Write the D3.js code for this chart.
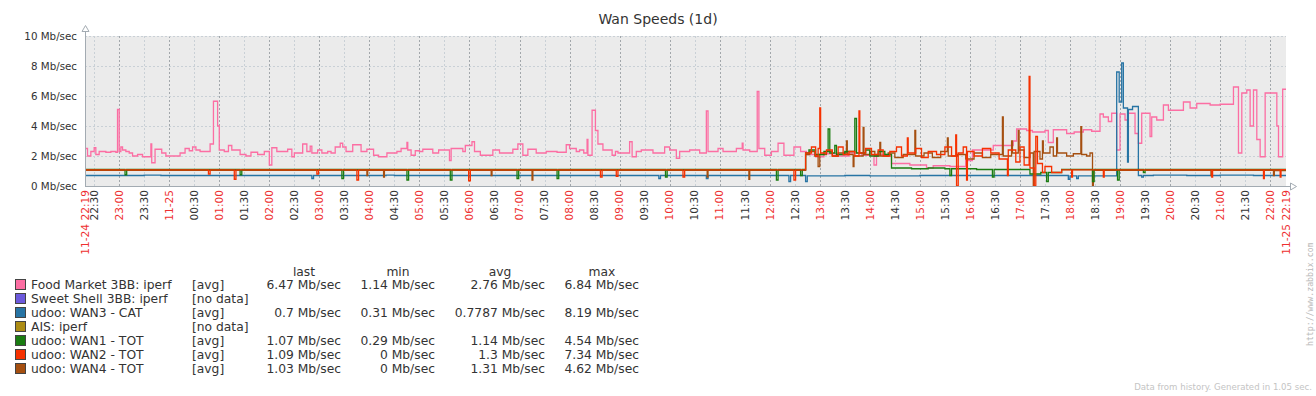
<!DOCTYPE html>
<html>
<head>
<meta charset="utf-8">
<script src="https://cdn.jsdelivr.net/npm/d3@7/dist/d3.min.js"></script>
<style>
  body { margin: 0; background: #fff; }
  svg { display: block; font-family: "DejaVu Sans", sans-serif; }
</style>
</head>
<body>
<div id="target"></div>
<script>
// series: [clock time, Mb/sec], times >= 22:19 belong to 11-24, the rest to 11-25
var foodMarket = [["22:19",2.5],["22:22",2.0],["22:26",2.3],["22:30",2.55],["22:32",2.1],["22:36",2.3],["22:44",2.25],["22:50",2.3],["22:56",2.25],["22:58",5.1],["23:00",2.3],["23:02",2.6],["23:04",2.4],["23:08",2.3],["23:12",2.2],["23:16",2.0],["23:22",2.1],["23:28",1.95],["23:38",2.8],["23:39",1.55],["23:43",2.45],["23:51",2.2],["23:56",2.0],["00:13",2.2],["00:19",2.5],["00:24",2.35],["00:28",2.6],["00:32",2.4],["00:37",2.3],["00:49",2.8],["00:53",5.65],["00:58",4.0],["01:00",2.4],["01:06",2.3],["01:11",2.7],["01:15",2.4],["01:25",2.1],["01:32",2.0],["01:38",2.25],["01:46",2.1],["01:54",2.3],["02:00",1.4],["02:03",2.55],["02:09",2.3],["02:22",2.45],["02:27",1.95],["02:30",2.2],["02:40",2.8],["02:45",2.3],["02:49",2.65],["02:51",2.2],["02:58",2.4],["03:03",2.2],["03:10",2.3],["03:14",2.2],["03:19",2.6],["03:25",2.85],["03:28",2.6],["03:32",2.3],["03:40",2.75],["03:50",2.3],["03:57",2.45],["04:05",2.05],["04:11",1.95],["04:21",2.2],["04:33",2.3],["04:38",2.5],["04:45",2.9],["04:46",2.4],["04:50",2.05],["04:55",2.35],["05:00",2.3],["05:04",2.45],["05:16",2.2],["05:23",2.4],["05:36",1.7],["05:38",2.5],["05:52",2.3],["05:55",2.7],["06:03",2.95],["06:06",2.3],["06:13",2.05],["06:28",2.4],["06:36",2.2],["06:52",2.45],["06:58",2.8],["07:04",2.05],["07:10",2.45],["07:20",2.2],["07:32",2.3],["07:45",2.25],["07:56",2.75],["08:00",2.5],["08:08",2.3],["08:12",2.4],["08:17",2.2],["08:21",3.1],["08:22",2.05],["08:27",5.05],["08:31",3.7],["08:34",2.8],["08:40",2.4],["08:51",2.05],["08:55",2.3],["08:58",2.2],["09:12",2.95],["09:15",1.95],["09:20",2.3],["09:26",2.4],["09:40",2.2],["09:54",2.6],["10:00",2.4],["10:08",1.85],["10:12",2.3],["10:24",2.4],["10:36",2.2],["10:44",5.0],["10:46",2.3],["10:58",2.5],["11:04",2.3],["11:20",2.5],["11:27",2.85],["11:28",2.4],["11:36",2.3],["11:45",6.3],["11:47",2.5],["11:54",2.05],["12:02",2.3],["12:10",2.85],["12:17",2.05],["12:29",2.6],["12:37",2.3],["12:44",2.1],["12:55",1.95],["13:05",2.15],["13:20",2.0],["13:35",2.2],["13:50",2.05],["14:05",1.4],["14:08",2.1],["14:20",2.0],["14:26",1.5],["14:48",1.4],["15:08",1.2],["15:16",1.35],["15:36",1.3],["15:55",1.7],["16:03",2.4],["16:28",2.7],["16:52",3.0],["16:56",3.8],["17:08",3.7],["17:15",3.6],["17:30",3.7],["17:34",2.9],["17:40",3.75],["17:56",3.5],["18:05",3.6],["18:16",3.75],["18:26",3.65],["18:36",4.8],["18:40",4.6],["18:46",4.3],["18:50",4.85],["18:56",2.4],["19:00",4.8],["19:06",4.4],["19:10",4.85],["19:18",3.5],["19:22",2.85],["19:26",4.85],["19:36",3.3],["19:38",4.6],["19:44",4.4],["19:52",5.4],["19:58",5.05],["20:16",5.6],["20:24",5.2],["20:32",5.5],["20:48",5.4],["21:00",5.45],["21:16",6.6],["21:22",2.2],["21:26",6.2],["21:32",6.4],["21:36",4.0],["21:40",6.4],["21:44",3.1],["21:48",1.95],["21:54",6.2],["22:08",4.0],["22:10",1.95],["22:15",6.45]];

var wan3 = [["22:19",0.7],["23:30",0.73],["23:50",0.7],["02:51",0.5],["02:53",0.7],["04:20",0.73],["04:30",0.7],["09:47",0.5],["09:49",0.7],["10:44",0.5],["10:46",0.7],["12:23",0.3],["12:25",0.7],["12:43",0.3],["12:45",0.68],["13:30",0.7],["14:00",0.68],["15:00",0.7],["17:58",0.45],["18:00",0.68],["18:08",0.5],["18:10",0.68],["18:56",7.6],["18:59",5.6],["19:02",8.2],["19:04",5.2],["19:09",1.6],["19:10",5.1],["19:15",5.3],["19:22",0.7],["19:26",0.6],["19:28",0.7],["19:40",0.73],["20:20",0.7],["21:00",0.72],["21:40",0.7]];

var wan1 = [["22:19",1.1],["23:07",0.75],["23:09",1.1],["01:25",0.75],["01:27",1.1],["03:27",0.5],["03:29",1.1],["04:45",0.4],["04:47",1.1],["05:37",0.4],["05:39",1.1],["06:57",0.5],["06:59",1.1],["07:45",0.5],["07:47",1.1],["09:55",0.6],["09:57",1.1],["12:08",0.4],["12:10",1.1],["12:37",0.7],["12:39",1.1],["12:43",2.2],["12:47",2.4],["12:55",2.1],["13:05",2.3],["13:10",3.8],["13:12",2.2],["13:18",2.7],["13:20",2.1],["13:30",2.3],["13:42",4.5],["13:44",2.2],["13:55",2.4],["14:00",2.0],["14:10",2.3],["14:18",2.1],["14:26",1.2],["14:50",1.15],["15:10",1.2],["15:30",1.15],["15:36",0.7],["15:38",1.15],["16:08",1.1],["16:27",0.6],["16:29",1.1],["17:12",0.8],["17:25",0.9],["17:32",0.3],["17:34",0.9],["17:50",1.1],["18:27",0.3],["18:29",1.1],["18:57",0.4],["18:59",1.1],["19:28",0.9],["19:30",1.1]];

var wan2 = [["22:19",1.07],["00:47",0.8],["00:49",1.07],["01:18",0.45],["01:20",1.07],["02:57",0.8],["02:59",1.07],["03:45",0.4],["03:47",1.07],["05:59",0.35],["06:01",1.07],["08:37",0.6],["08:39",1.07],["08:56",0.65],["08:58",1.07],["10:16",0.6],["10:18",1.07],["12:29",0.4],["12:31",1.07],["12:43",2.2],["12:50",2.6],["12:55",2.0],["12:58",2.5],["13:00",5.2],["13:01",2.2],["13:08",2.4],["13:15",2.0],["13:22",2.6],["13:28",2.1],["13:35",2.3],["13:42",2.0],["13:47",5.0],["13:48",2.2],["13:55",2.5],["14:02",2.1],["14:10",2.4],["14:16",2.0],["14:24",2.3],["14:32",2.6],["14:38",2.0],["14:45",3.2],["14:46",2.2],["14:55",2.5],["15:02",1.9],["15:10",2.3],["15:20",2.1],["15:30",2.6],["15:38",2.0],["15:43",3.4],["15:44",0.0],["15:46",2.2],["15:52",2.6],["15:56",0.4],["15:57",2.3],["16:05",2.0],["16:15",2.5],["16:25",2.2],["16:35",1.8],["16:45",0.7],["16:46",2.4],["16:55",1.6],["17:00",2.6],["17:05",1.4],["17:11",7.3],["17:12",1.2],["17:17",0.0],["17:19",3.3],["17:21",1.5],["17:27",0.9],["17:30",1.3],["17:38",0.9],["17:50",1.07],["18:02",0.6],["18:03",1.07],["18:40",0.6],["18:41",1.07],["20:50",0.6],["20:51",1.07],["21:52",0.5],["21:53",1.07],["22:12",0.6],["22:13",1.09]];

var wan4 = [["22:19",1.04],["03:57",0.7],["03:58",1.04],["04:17",0.6],["04:18",1.04],["06:26",0.7],["06:27",1.04],["07:15",0.4],["07:16",1.04],["10:45",0.6],["10:46",1.04],["11:35",0.45],["11:36",1.04],["12:43",2.1],["12:48",2.3],["12:54",2.0],["12:58",1.3],["13:00",2.1],["13:08",2.3],["13:15",2.0],["13:22",2.2],["13:32",3.0],["13:33",2.1],["13:40",1.3],["13:41",2.0],["13:52",3.9],["13:53",2.1],["14:00",2.3],["14:06",2.0],["14:12",2.9],["14:13",2.0],["14:22",2.2],["14:30",1.9],["14:40",2.1],["14:54",3.7],["14:55",2.0],["15:05",2.2],["15:15",1.9],["15:25",2.3],["15:33",3.2],["15:34",2.0],["15:45",2.1],["15:55",1.8],["16:05",2.2],["16:15",1.9],["16:25",2.1],["16:39",4.6],["16:40",2.0],["16:50",3.0],["16:51",2.2],["16:58",3.7],["16:59",2.4],["17:05",1.9],["17:12",2.2],["17:16",0.0],["17:17",2.3],["17:24",1.8],["17:27",3.0],["17:28",2.2],["17:36",2.6],["17:40",2.0],["17:44",3.2],["17:45",2.2],["17:56",2.0],["18:04",2.15],["18:13",3.95],["18:14",2.1],["18:20",2.0],["18:24",2.2],["18:27",0.0],["18:28",1.04],["20:49",0.7],["20:50",1.04],["22:04",0.7],["22:05",1.03]];

var yTicks = [0, 2, 4, 6, 8, 10];

var legendNames = ["Food Market 3BB: iperf", "Sweet Shell 3BB: iperf", "udoo: WAN3 - CAT", "AIS: iperf", "udoo: WAN1 - TOT", "udoo: WAN2 - TOT", "udoo: WAN4 - TOT"];
var legendColors = ["#fc6ea3", "#6c59dc", "#2774a4", "#ac8c14", "#1a7c11", "#f63100", "#a54f10"];
var legendFunc = ["[avg]", "[no data]", "[avg]", "[no data]", "[avg]", "[avg]", "[avg]"];
var lastVals = ["6.47 Mb/sec", "", "0.7 Mb/sec", "", "1.07 Mb/sec", "1.09 Mb/sec", "1.03 Mb/sec"];
var minVals = ["1.14 Mb/sec", "", "0.31 Mb/sec", "", "0.29 Mb/sec", "0 Mb/sec", "0 Mb/sec"];
var avgVals = ["2.76 Mb/sec", "", "0.7787 Mb/sec", "", "1.14 Mb/sec", "1.3 Mb/sec", "1.31 Mb/sec"];
var maxVals = ["6.84 Mb/sec", "", "8.19 Mb/sec", "", "4.54 Mb/sec", "7.34 Mb/sec", "4.62 Mb/sec"];

// drawing order: first drawn is at the bottom
var seriesList = [
  { data: foodMarket, color: "#fc6ea3" },
  { data: wan3, color: "#2774a4" },
  { data: wan4, color: "#a54f10" },
  { data: wan1, color: "#1a7c11" },
  { data: wan2, color: "#f63100" }
];

var W = 1316, H = 396;
var PL = 85, PR = 1286, PT = 36, PB = 186;
var tStart = new Date(2017, 10, 24, 22, 19);
var tEnd = new Date(2017, 10, 25, 22, 19);

var parseT = function(s) {
  var p = s.split(":"), h = +p[0], m = +p[1];
  var day = (h * 60 + m >= 22 * 60 + 19) ? 24 : 25;
  return new Date(2017, 10, day, h, m);
};

var svg = d3.select("#target").append("svg").attr("width", W).attr("height", H);
svg.append("rect").attr("width", W).attr("height", H).attr("fill", "#fff");

var x = d3.scaleTime().domain([tStart, tEnd]).range([PL, PR]);
var y = d3.scaleLinear().domain([0, 10]).range([PB, PT]);

var axisColor = "#a3abb2";

// title
svg.append("text").attr("x", 658).attr("y", 24).attr("text-anchor", "middle")
  .attr("font-size", 14).attr("fill", "#333").text("Wan Speeds (1d)");

// plot background
svg.append("rect").attr("x", PL).attr("y", PT).attr("width", PR - PL).attr("height", PB - PT).attr("fill", "#ebebeb");

var g = svg.append("g");

// grid
var halfHours = x.ticks(d3.timeMinute.every(30));
halfHours.forEach(function(t) {
  var major = t.getMinutes() === 0;
  g.append("line")
    .attr("x1", Math.round(x(t)) + 0.5).attr("x2", Math.round(x(t)) + 0.5)
    .attr("y1", PT).attr("y2", PB)
    .attr("stroke", major ? "#a2a7ab" : "#c9d0d6")
    .attr("stroke-dasharray", "2,2");
});
yTicks.forEach(function(v) {
  if (v === 0) return;
  g.append("line")
    .attr("x1", PL).attr("x2", PR)
    .attr("y1", Math.round(y(v)) + 0.5).attr("y2", Math.round(y(v)) + 0.5)
    .attr("stroke", "#c9d0d6")
    .attr("stroke-dasharray", "2,2");
});

// series
var line = d3.line()
  .x(function(d) { return x(d[0]); })
  .y(function(d) { return y(d[1]); })
  .curve(d3.curveStepAfter);

seriesList.forEach(function(s) {
  var pts = s.data.map(function(d) { return [parseT(d[0]), d[1]]; });
  pts.push([tEnd, pts[pts.length - 1][1]]);
  g.append("path")
    .attr("d", line(pts))
    .attr("fill", "none")
    .attr("stroke", s.color)
    .attr("stroke-width", 1.3);
});

// axes lines with arrows
svg.append("line").attr("x1", PL + 0.5).attr("x2", PL + 0.5).attr("y1", 30).attr("y2", PB + 1)
  .attr("stroke", axisColor);
svg.append("line").attr("x1", PL).attr("x2", 1292).attr("y1", PB + 0.5).attr("y2", PB + 0.5)
  .attr("stroke", axisColor);
svg.append("path").attr("d", "M" + (PL + 0.5) + ",25.5 L" + (PL + 4) + ",31.5 L" + (PL - 3) + ",31.5 Z")
  .attr("fill", "#fff").attr("stroke", axisColor);
svg.append("path").attr("d", "M1296.5," + (PB + 0.5) + " L1290.5," + (PB - 3) + " L1290.5," + (PB + 4) + " Z")
  .attr("fill", "#fff").attr("stroke", axisColor);

// y labels
yTicks.forEach(function(v) {
  svg.append("text").attr("x", 77).attr("y", y(v) + 3.5)
    .attr("text-anchor", "end").attr("font-size", 10.3).attr("fill", "#333")
    .text(v + " Mb/sec");
});

// x labels
var fmt = d3.timeFormat("%H:%M");
var xLabel = function(t, txt, col) {
  svg.append("text")
    .attr("transform", "translate(" + (x(t) + 3.8) + "," + 190 + ") rotate(-90)")
    .attr("text-anchor", "end").attr("font-size", 10.6).attr("fill", col)
    .text(txt);
};
halfHours.forEach(function(t) {
  if (t.getHours() === 0 && t.getMinutes() === 0) {
    xLabel(t, "11-25", "#ee3030");
  } else {
    xLabel(t, fmt(t), t.getMinutes() === 0 ? "#ee3030" : "#333");
  }
});
xLabel(tStart, "11-24 22:19", "#ee3030");
xLabel(tEnd, "11-25 22:19", "#ee3030");

// legend
var lg = svg.append("g").attr("font-size", 12.3).attr("fill", "#333");
var cols = [["last", 341, lastVals, 304], ["min", 435, minVals, 398], ["avg", 545, avgVals, 500], ["max", 639, maxVals, 602]];
cols.forEach(function(c) {
  lg.append("text").attr("x", c[3]).attr("y", 276).attr("text-anchor", "middle").text(c[0]);
});
legendNames.forEach(function(name, i) {
  var ry = 285 + i * 14;
  lg.append("rect").attr("x", 15.5).attr("y", ry - 5.5).attr("width", 10).attr("height", 10)
    .attr("fill", legendColors[i]).attr("stroke", "#444");
  lg.append("text").attr("x", 31).attr("y", ry + 4).text(name);
  lg.append("text").attr("x", 192).attr("y", ry + 4).text(legendFunc[i]);
  cols.forEach(function(c) {
    lg.append("text").attr("x", c[1]).attr("y", ry + 4).attr("text-anchor", "end").text(c[2][i]);
  });
});

// footer texts
svg.append("text").attr("x", 1312).attr("y", 390).attr("text-anchor", "end")
  .attr("font-size", 8.6).attr("fill", "#c4c4c4").text("Data from history. Generated in 1.05 sec.");
svg.append("text").attr("transform", "translate(1313,346) rotate(-90)")
  .attr("font-size", 8.2).attr("font-family", "'DejaVu Sans Mono', monospace").attr("fill", "#b8b8b8")
  .text("http://www.zabbix.com");
</script>
</body>
</html>
